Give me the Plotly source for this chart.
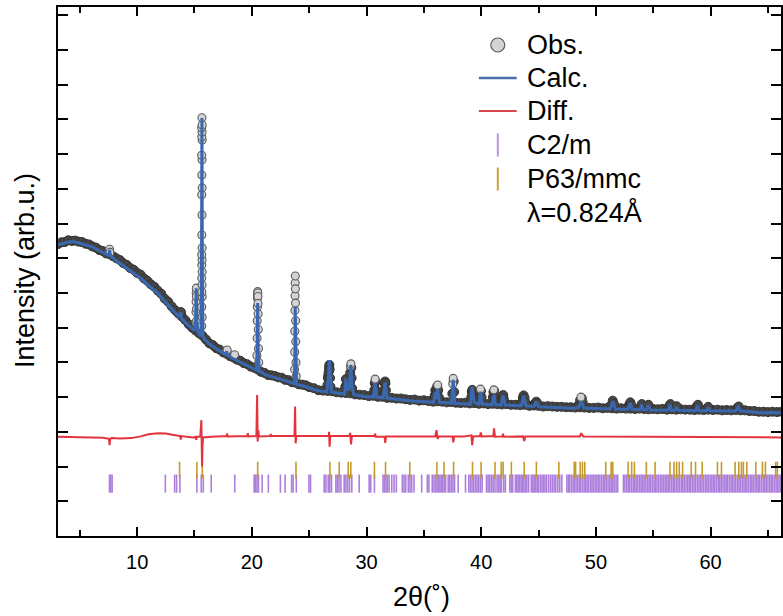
import plotly.graph_objects as go

# ---------------- data ----------------
# observed pattern: background scan points
obs_bg_x = [3.1, 3.4, 3.7, 4.0, 4.3, 4.6, 4.9, 5.2, 5.5, 5.8, 6.1, 6.4, 6.7, 7.0, 7.3, 7.6, 7.9, 8.2, 8.5, 8.8,
            9.1, 9.4, 9.7, 10.0, 10.3, 10.6, 10.9, 11.2, 11.5, 11.8, 12.1, 12.4, 12.7, 13.0, 13.3, 13.6, 13.9, 14.2,
            14.5, 14.8, 15.1, 15.4, 15.7, 16.0, 16.3, 16.6, 16.9, 17.2, 17.5, 17.8, 18.1, 18.4, 18.7, 19.0, 19.3,
            19.6, 19.9, 20.2, 20.5, 20.8, 21.1, 21.4, 21.7, 22.0, 22.3, 22.6, 22.9, 23.2, 23.5, 23.8, 24.1, 24.4,
            24.7, 25.0, 25.4, 25.8, 26.2, 26.6, 27.0, 27.4, 27.8, 28.2, 28.6, 29.0, 29.4, 29.8, 30.2, 30.6, 31.0,
            31.4, 31.8, 32.2, 32.6, 33.0, 33.4, 33.8, 34.2, 34.6, 35.0, 35.4, 35.8, 36.2, 36.6, 37.0, 37.4, 37.8,
            38.2, 38.6, 39.0, 39.4, 39.8, 40.2, 40.6, 41.0, 41.4, 41.8, 42.2, 42.6, 43.0, 43.4, 43.8, 44.2, 44.6,
            45.0, 45.4, 45.8, 46.2, 46.6, 47.0, 47.4, 47.8, 48.2, 48.6, 49.0, 49.4, 49.8, 50.2, 50.6, 51.0, 51.4,
            51.8, 52.2, 52.6, 53.0, 53.4, 53.8, 54.2, 54.6, 55.0, 55.4, 55.8, 56.2, 56.6, 57.0, 57.4, 57.8, 58.2,
            58.6, 59.0, 59.4, 59.8, 60.2, 60.6, 61.0, 61.4, 61.8, 62.2, 62.6, 63.0, 63.4, 63.8, 64.2, 64.6, 65.0,
            65.4, 65.8, 66.2]
obs_bg_y = [8.41, 8.46, 8.47, 8.52, 8.50, 8.51, 8.48, 8.47, 8.42, 8.40, 8.34, 8.31, 8.24, 8.21, 8.14, 8.12, 8.06,
            8.00, 7.95, 7.86, 7.81, 7.72, 7.67, 7.58, 7.53, 7.42, 7.35, 7.25, 7.18, 7.07, 6.98, 6.84, 6.75, 6.62,
            6.51, 6.41, 6.32, 6.22, 6.10, 6.00, 5.92, 5.84, 5.77, 5.66, 5.55, 5.50, 5.41, 5.37, 5.29, 5.25, 5.18,
            5.14, 5.08, 5.05, 4.98, 4.95, 4.88, 4.85, 4.80, 4.73, 4.70, 4.64, 4.63, 4.61, 4.57, 4.56, 4.50, 4.49,
            4.43, 4.42, 4.37, 4.36, 4.34, 4.29, 4.26, 4.20, 4.19, 4.18, 4.17, 4.14, 4.13, 4.12, 4.11, 4.08, 4.07,
            4.06, 4.03, 4.04, 4.01, 4.01, 3.98, 3.98, 3.96, 3.96, 3.94, 3.92, 3.93, 3.90, 3.91, 3.89, 3.87, 3.88,
            3.87, 3.85, 3.86, 3.84, 3.83, 3.84, 3.82, 3.83, 3.81, 3.82, 3.80, 3.81, 3.80, 3.79, 3.80, 3.78, 3.78,
            3.77, 3.78, 3.75, 3.76, 3.75, 3.73, 3.74, 3.73, 3.72, 3.72, 3.71, 3.71, 3.70, 3.71, 3.70, 3.69, 3.69,
            3.70, 3.68, 3.69, 3.68, 3.67, 3.68, 3.67, 3.67, 3.66, 3.67, 3.66, 3.65, 3.66, 3.65, 3.66, 3.64, 3.65,
            3.64, 3.65, 3.64, 3.64, 3.63, 3.64, 3.63, 3.64, 3.63, 3.64, 3.62, 3.63, 3.62, 3.63, 3.62, 3.62, 3.60,
            3.60, 3.58, 3.58, 3.57, 3.58, 3.57, 3.58]

# observed pattern: points on the flanks of the weaker/broader peaks (dense, overlapping)
obs_bump_x = [13.78, 13.82, 26.60, 26.63, 26.66, 26.70, 26.73, 26.76, 26.79, 26.82, 26.86,
              28.15, 28.20, 28.25, 28.55, 28.58, 28.67, 28.70, 28.75,
              30.68, 30.72, 30.78, 30.82, 31.55, 31.59, 31.62, 31.65, 31.69,
              35.95, 36.00, 36.05, 36.12, 36.17, 36.25, 36.30, 37.48, 37.60, 37.64,
              39.14, 39.18, 39.22, 39.26, 39.32, 39.86, 39.90, 39.98, 40.03,
              41.02, 41.07, 41.14, 41.20, 41.82, 41.87, 41.92, 41.97,
              43.55, 43.63, 43.70, 43.78, 43.86, 44.70, 44.80, 44.90,
              48.55, 48.63, 48.77, 48.85, 51.35, 51.47, 51.58, 52.90, 53.00, 53.10,
              54.00, 54.57, 56.40, 56.50, 57.04, 58.80, 58.90, 59.79, 62.35, 62.45]
obs_bump_y = [6.40, 6.45, 4.35, 4.55, 4.62, 4.72, 4.85, 4.93, 4.80, 4.55, 4.30,
              4.30, 4.52, 4.35, 4.40, 4.70, 4.85, 4.55, 4.25,
              4.20, 4.40, 4.45, 4.20, 4.20, 4.38, 4.45, 4.40, 4.20,
              4.05, 4.20, 4.10, 4.20, 4.32, 4.20, 4.00, 4.10, 4.45, 4.15,
              4.00, 4.15, 4.21, 4.10, 3.95, 4.00, 4.15, 4.18, 4.00,
              4.00, 4.15, 4.18, 3.98, 3.92, 4.02, 4.06, 3.95,
              3.85, 3.98, 4.05, 3.98, 3.85, 3.82, 3.87, 3.82,
              3.80, 3.92, 3.97, 3.85, 3.78, 3.90, 3.80, 3.78, 3.85, 3.76,
              3.80, 3.78, 3.75, 3.80, 3.74, 3.74, 3.78, 3.72, 3.70, 3.73]

# observed pattern: isolated points on the strong peaks and peak tops
obs_pk_x = [7.57, 7.60, 7.63,
            15.12, 15.13, 15.14, 15.15, 15.16, 15.17, 15.18, 15.19,
            15.63, 15.67, 15.63, 15.67, 15.64, 15.66, 15.63, 15.67, 15.64, 15.66, 15.63, 15.67, 15.64,
            15.66, 15.63, 15.67, 15.64, 15.66, 15.63, 15.67, 15.64, 15.66, 15.63, 15.67, 15.65,
            17.78, 17.85, 18.50,
            20.44, 20.46, 20.47, 20.48, 20.49, 20.50, 20.51, 20.52, 20.53, 20.54, 20.55, 20.56, 20.58, 20.60,
            23.73, 23.74, 23.75, 23.76, 23.77, 23.78, 23.79, 23.80, 23.81, 23.82, 23.83, 23.85, 23.87,
            28.61, 28.64, 30.75, 36.20, 37.52, 37.56, 39.94, 41.10, 48.70]
obs_pk_y = [8.18, 8.26, 8.17,
            6.15, 6.45, 6.75, 7.00, 7.14, 6.90, 6.55, 6.20,
            6.05, 6.30, 6.60, 6.89, 7.03, 7.23, 7.43, 7.61, 7.81, 7.96, 8.10, 8.30, 8.67,
            9.25, 9.83, 10.03, 10.40, 10.84, 10.97, 11.41, 11.50, 11.64, 11.76, 11.84, 12.05,
            5.33, 5.36, 5.22,
            5.20, 5.70, 6.20, 6.60, 6.85, 6.96, 7.04, 7.00, 6.90, 6.70, 6.40, 5.95, 5.40, 5.00,
            4.80, 5.30, 5.90, 6.50, 6.92, 7.29, 7.49, 7.12, 6.71, 6.20, 5.60, 5.00, 4.60,
            4.90, 4.96, 4.52, 4.35, 4.38, 4.54, 4.23, 4.21, 4.00]

# calculated profile
calc_x = [3.1, 3.6, 4.0, 4.5, 5.0, 6.0, 7.0, 7.45, 7.55, 7.6, 7.65, 7.75, 8.2, 8.9, 9.6, 10.3, 11.0, 11.8,
          12.5, 13.2, 13.7, 13.8, 13.9, 14.3, 14.7, 15.0, 15.1, 15.15, 15.2, 15.3, 15.47, 15.57, 15.61, 15.65,
          15.69, 15.73, 15.9, 16.4, 17.0, 17.7, 17.8, 17.9, 18.3, 19.0, 19.5, 20.0, 20.4, 20.46, 20.51, 20.56,
          20.65, 21.2, 22.4, 23.0, 23.7, 23.75, 23.78, 23.82, 23.9, 24.7, 25.5, 26.3, 26.55, 26.62, 26.68,
          26.76, 26.85, 26.95, 27.6, 28.1, 28.2, 28.3, 28.5, 28.63, 28.75, 28.9, 29.9, 30.6, 30.75, 30.9,
          31.45, 31.62, 31.8, 32.8, 34.0, 35.2, 35.85, 36.0, 36.1, 36.2, 36.35, 37.4, 37.56, 37.7, 38.8,
          39.05, 39.21, 39.4, 39.8, 39.94, 40.1, 40.95, 41.1, 41.25, 41.75, 41.9, 42.1, 43.5, 43.7, 43.9,
          44.6, 44.8, 45.0, 46.2, 48.0, 48.5, 48.72, 48.95, 50.5, 51.25, 51.47, 51.7, 52.8, 52.98, 53.15,
          53.85, 54.0, 54.15, 54.4, 54.57, 54.75, 56.3, 56.46, 56.6, 56.9, 57.04, 57.2, 58.7, 58.86, 59.0,
          59.65, 59.79, 59.95, 62.2, 62.4, 62.6, 63.3, 64.3, 66.2]
calc_y = [8.39, 8.44, 8.47, 8.48, 8.44, 8.34, 8.17, 8.09, 8.13, 8.24, 8.12, 8.05, 7.92, 7.76, 7.59, 7.43, 7.22,
          6.99, 6.73, 6.46, 6.30, 6.44, 6.26, 6.12, 5.99, 5.92, 6.20, 7.14, 6.20, 5.88, 5.79, 5.80, 7.50, 12.04,
          7.50, 5.75, 5.66, 5.50, 5.37, 5.23, 5.32, 5.21, 5.12, 5.01, 4.93, 4.84, 4.78, 5.30, 6.71, 5.30,
          4.75, 4.64, 4.54, 4.47, 4.39, 5.00, 6.61, 5.00, 4.37, 4.30, 4.21, 4.16, 4.15, 4.45, 4.50,
          5.07, 4.45, 4.15, 4.11, 4.09, 4.54, 4.20, 4.25, 4.93, 4.25, 4.07, 4.02, 4.00, 4.40, 4.00,
          3.98, 4.42, 3.97, 3.93, 3.89, 3.87, 3.85, 4.15, 3.95, 4.23, 3.85, 3.83, 4.50, 3.82, 3.80,
          3.80, 4.30, 3.85, 3.80, 4.16, 3.80, 3.78, 4.06, 3.79, 3.77, 4.06, 3.77, 3.75, 4.03, 3.75,
          3.73, 3.87, 3.72, 3.70, 3.68, 3.70, 3.87, 3.69, 3.66, 3.66, 3.88, 3.66, 3.65, 3.83, 3.65,
          3.64, 3.78, 3.64, 3.64, 3.76, 3.63, 3.62, 3.78, 3.62, 3.62, 3.72, 3.62, 3.61, 3.75, 3.61,
          3.61, 3.70, 3.61, 3.60, 3.71, 3.60, 3.59, 3.55, 3.55]

# difference curve (offset)
diff_x = [3.1, 4.5, 6.0, 7.0, 7.55, 7.6, 7.65, 7.8, 8.5, 9.5, 10.3, 11.0, 11.8, 12.5, 13.2, 13.75, 13.8, 13.85,
          14.3, 14.9, 15.1, 15.15, 15.2, 15.5, 15.6, 15.63, 15.66, 15.7, 15.75, 16.5, 17.8, 17.85, 17.9, 19.6,
          19.65, 19.7, 20.4, 20.46, 20.51, 20.56, 20.62, 21.6, 21.65, 21.7, 23.72, 23.77, 23.82, 23.88, 25.0,
          26.7, 26.74, 26.78, 26.84, 28.5, 28.58, 28.65, 28.72, 30.7, 30.75, 30.8, 31.58, 31.63, 31.7, 36.0,
          36.1, 36.2, 36.3, 37.5, 37.57, 37.64, 38.5, 39.15, 39.21, 39.3, 39.9, 39.96, 40.05, 41.05, 41.12,
          41.2, 41.85, 41.9, 41.96, 43.65, 43.75, 43.85, 48.6, 48.72, 48.9, 55.0, 60.0, 66.2]
diff_y = [2.86, 2.85, 2.84, 2.83, 2.80, 2.62, 2.80, 2.82, 2.81, 2.82, 2.87, 2.93, 2.96, 2.95, 2.91, 2.88, 2.78,
          2.88, 2.86, 2.84, 2.86, 2.77, 2.86, 2.86, 3.34, 2.90, 2.00, 2.60, 2.84, 2.86, 2.88, 2.95, 2.87, 2.88,
          2.96, 2.87, 2.88, 4.06, 2.72, 3.05, 2.87, 2.88, 2.94, 2.88, 2.88, 3.73, 2.67, 2.88, 2.88,
          2.88, 3.00, 2.57, 2.88, 2.88, 2.97, 2.64, 2.88, 2.88, 2.95, 2.86, 2.86, 2.68, 2.87, 2.87,
          3.05, 2.80, 2.87, 2.87, 2.70, 2.87, 2.87, 2.90, 2.62, 2.87, 2.88, 2.98, 2.87, 2.88, 3.10,
          2.86, 2.87, 2.95, 2.86, 2.87, 2.74, 2.87, 2.87, 2.96, 2.87, 2.86, 2.86, 2.84]

# Bragg reflection positions
p63_pos = [13.70, 15.21, 15.68, 20.51, 23.85, 26.81, 27.62, 28.40, 28.63, 30.69, 31.66, 33.77, 36.14, 36.76,
           37.59, 39.24, 39.99, 41.20, 41.75, 41.91, 42.63, 43.75, 44.81, 46.77, 48.11, 48.23, 48.63, 48.83,
           49.03, 50.86, 51.33, 51.47, 52.81, 53.12, 53.36, 54.40, 55.16, 56.46, 56.81, 57.04, 57.27, 57.56,
           58.31, 58.69, 59.27, 60.60, 60.95, 62.14, 62.46, 62.69, 62.86, 63.16, 63.94, 64.52, 64.78, 65.68,
           65.82]
c2m_pos = [7.59, 7.70, 7.82, 12.46, 13.27, 13.44, 13.73, 15.21, 15.59, 15.77, 16.46, 18.51, 20.20, 20.32,
           20.45, 20.58, 20.90, 21.44, 22.49, 22.90, 23.47, 23.60, 23.88, 24.98, 25.12, 26.31, 26.46, 26.66,
           26.80, 26.95, 27.33, 27.45, 27.60, 27.77, 28.05, 28.20, 28.36, 28.52, 28.72, 29.36, 30.23, 30.37,
           30.69, 31.44, 31.56, 31.70, 31.82, 31.97, 32.20, 32.40, 32.60, 33.12, 33.27, 33.42, 33.64, 33.79,
           33.94, 34.14, 34.81, 35.30, 35.44, 35.73, 35.88, 36.03, 36.15, 36.27, 36.40, 36.52, 36.65, 36.78,
           36.90, 37.12, 37.26, 37.40, 37.54, 37.68, 37.99, 38.63, 38.92, 39.06, 39.20, 39.35, 39.50, 39.64,
           39.79, 39.94, 40.08, 40.46, 40.60, 40.75, 40.90, 41.04, 41.20, 41.38, 41.53, 41.65, 41.77, 41.97,
           42.11, 42.49, 42.62, 42.75, 42.98, 43.10, 43.22, 43.35, 43.48, 43.60, 43.72, 43.85, 43.98, 44.14,
           44.37, 44.50, 44.62, 44.75, 44.88, 45.00, 45.16, 45.30, 45.43, 45.56, 45.70, 45.88, 46.05, 46.20,
           46.36, 46.50, 46.68, 46.85, 47.03, 47.47, 47.60, 47.71, 47.86, 48.01, 48.13, 48.27, 48.41, 48.55,
           48.67, 48.82, 48.97, 49.10, 49.23, 49.37, 49.53, 49.66, 49.79, 49.93, 50.08, 50.22, 50.35, 50.50,
           50.64, 50.78, 50.91, 51.06, 51.21, 51.34, 51.48, 51.61, 51.76, 51.90, 52.40, 52.53, 52.68, 52.82,
           52.95, 53.10, 53.25, 53.38, 53.51, 53.66, 53.81, 53.94, 54.08, 54.21, 54.36, 54.51, 54.64, 54.77,
           54.92, 55.07, 55.20, 55.33, 55.48, 55.63, 55.76, 55.90, 56.04, 56.19, 56.32, 56.45, 56.61, 56.74,
           56.88, 57.03, 57.16, 57.30, 57.45, 57.58, 57.71, 57.86, 58.01, 58.14, 58.27, 58.42, 58.56, 58.69,
           58.84, 58.99, 59.12, 59.25, 59.40, 59.55, 59.68, 59.81, 59.96, 60.11, 60.24, 60.37, 60.52, 60.67,
           60.80, 60.93, 61.08, 61.23, 61.36, 61.49, 61.64, 61.79, 61.92, 62.05, 62.20, 62.35, 62.48, 62.61,
           62.76, 62.91, 63.04, 63.17, 63.32, 63.47, 63.60, 63.73, 63.88, 64.03, 64.16, 64.29, 64.44, 64.59,
           64.72, 64.85, 65.00, 65.15, 65.28, 65.41, 65.56, 65.71, 65.84, 65.97, 66.12]
p63_level = 1.90   # vertical offset row of the P63/mmc markers
c2m_level = 1.51   # vertical offset row of the C2/m markers

x_ticks = [10, 20, 30, 40, 50, 60]
legend_labels = ["Obs.", "Calc.", "Diff.", "C2/m", "P63/mmc", "λ=0.824Å"]

# ---------------- styles ----------------
FONT = "Liberation Sans, Arial, sans-serif"
C_OBS_FILL = "#d4d4d4"
C_OBS_LINE = "#5c5c5c"
C_BAND = "#464646"
C_CALC = "#3a68b0"
C_DIFF = "#e3343e"
C_C2M = "#ac7fdc"
C_P63 = "#c49a2a"

fig = go.Figure()

fig.add_trace(go.Scatter(x=c2m_pos, y=[c2m_level] * len(c2m_pos), mode="markers", showlegend=False,
                         marker=dict(symbol="line-ns", size=13, line=dict(width=1.6, color=C_C2M))))
fig.add_trace(go.Scatter(x=p63_pos, y=[p63_level] * len(p63_pos), mode="markers", showlegend=False,
                         marker=dict(symbol="line-ns", size=12, line=dict(width=1.6, color=C_P63))))
fig.add_trace(go.Scatter(x=diff_x, y=diff_y, mode="lines", showlegend=False,
                         line=dict(color=C_DIFF, width=2)))
# dense observed scan points overlap into a dark band
fig.add_trace(go.Scatter(x=obs_bg_x + obs_bump_x, y=obs_bg_y + obs_bump_y, mode="markers", showlegend=False,
                         marker=dict(symbol="circle", size=9, color=C_BAND,
                                     line=dict(width=1, color="#333333"))))
fig.add_trace(go.Scatter(x=obs_pk_x, y=obs_pk_y, mode="markers", showlegend=False,
                         marker=dict(symbol="circle", size=8, color=C_OBS_FILL,
                                     line=dict(width=1.1, color=C_OBS_LINE))))
fig.add_trace(go.Scatter(x=calc_x, y=calc_y, mode="lines", showlegend=False,
                         line=dict(color=C_CALC, width=3)))


# ---- legend key (drawn in paper coordinates from pixel positions) ----
def px(xp):
    return (xp - 58) / 725.0


def py(yp):
    return (536 - yp) / 529.0


shapes = [
    dict(type="circle", xref="paper", yref="paper", x0=px(492), x1=px(506), y0=py(52), y1=py(38),
         fillcolor=C_OBS_FILL, line=dict(color="#5a5a5a", width=1.2)),
    dict(type="line", xref="paper", yref="paper", x0=px(480), x1=px(518), y0=py(78), y1=py(78),
         line=dict(color="#4a72b0", width=2.5)),
    dict(type="line", xref="paper", yref="paper", x0=px(480), x1=px(518), y0=py(111), y1=py(111),
         line=dict(color="#d9464e", width=2)),
    dict(type="line", xref="paper", yref="paper", x0=px(499), x1=px(499), y0=py(156.5), y1=py(133.5),
         line=dict(color="#b894da", width=2)),
    dict(type="line", xref="paper", yref="paper", x0=px(499), x1=px(499), y0=py(190.5), y1=py(167.5),
         line=dict(color="#c9a23a", width=2)),
]
label_y = [44.5, 77.5, 111, 145, 179, 212]
annotations = [dict(text=t, xref="paper", yref="paper", x=px(526), y=py(yy), xanchor="left",
                    yanchor="middle", showarrow=False, font=dict(size=27, family=FONT))
               for t, yy in zip(legend_labels, label_y)]
annotations += [
    dict(text="Intensity (arb.u.)", xref="paper", yref="paper", x=px(25), y=py(271),
         xanchor="center", yanchor="middle", textangle=-90, showarrow=False,
         font=dict(size=27, family=FONT)),
    dict(text="2θ(˚)", xref="paper", yref="paper", x=px(423), y=py(597),
         xanchor="center", yanchor="middle", showarrow=False, font=dict(size=27, family=FONT)),
]

fig.update_layout(
    width=783, height=616,
    margin=dict(l=58, r=0, t=7, b=80),
    paper_bgcolor="white", plot_bgcolor="white",
    font=dict(family=FONT, color="black"),
    showlegend=False,
    xaxis=dict(range=[3.1, 66.14], tickvals=x_ticks, ticks="inside", ticklen=9, tickwidth=2,
               tickcolor="black", showline=True, linewidth=2, linecolor="black", mirror="allticks",
               showgrid=False, zeroline=False, tickfont=dict(size=20, family=FONT), ticklabelstandoff=7,
               minor=dict(ticks="inside", ticklen=6, tickwidth=2, tickcolor="black", dtick=5, tick0=0)),
    yaxis=dict(range=[0, 15.24], dtick=1, tick0=0, ticks="inside", ticklen=10, tickwidth=2,
               tickcolor="black", showline=True, linewidth=2, linecolor="black", mirror="allticks",
               showgrid=False, zeroline=False, showticklabels=False),
    shapes=shapes,
    annotations=annotations,
)

fig.write_html("out.html")
